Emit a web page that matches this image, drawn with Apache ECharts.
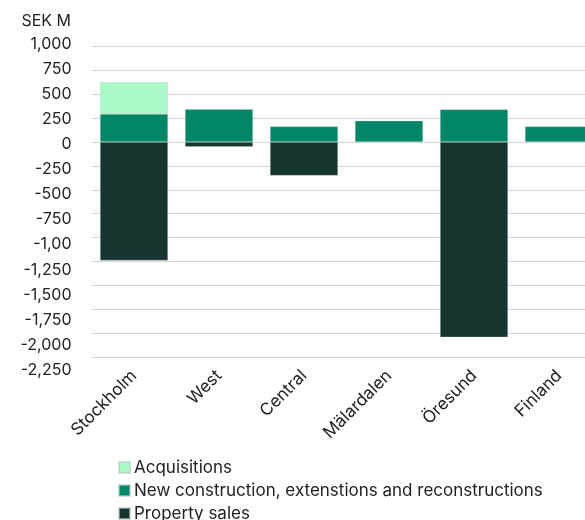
<!DOCTYPE html>
<html>
<head>
<meta charset="utf-8">
<script src="https://cdn.jsdelivr.net/npm/echarts@6/dist/echarts.min.js"></script>
<style>
html,body{margin:0;padding:0;background:#fff;}
#chart{width:585px;height:520px;}
</style>
</head>
<body>
<div id="chart"></div>
<script>
var categories = ['Stockholm', 'West', 'Central', 'Mälardalen', 'Öresund', 'Finland'];
var acquisitions = [335, 0, 0, 0, 0, 0];
var newConstruction = [293, 345, 164, 223, 342, 164];
var propertySales = [-1240, -50, -352, 0, -2043, 0];
var tickLabels = ['-2,250', '-2,000', '-1,750', '-1,500', '-1,250', '-1,00', '-750', '-500', '-250', '0', '250', '500', '750', '1,000'];
var seriesNames = ['Acquisitions', 'New construction, extenstions and reconstructions', 'Property sales'];

var FONT = 'Inter';
var chart = echarts.init(document.getElementById('chart'), null, {renderer: 'canvas'});
var tickValues = [];
for (var i = 0; i < tickLabels.length; i++) { tickValues.push(-2250 + i * 250); }

function barSeries(name, data, color) {
  return {
    name: name,
    type: 'bar',
    stack: 'total',
    xAxisIndex: 0,
    yAxisIndex: 0,
    barWidth: '80%',
    data: data.map(function (v) { return v === 0 ? null : v; }),
    itemStyle: {color: color, borderColor: 'rgba(190,200,198,0.6)', borderWidth: 0.6},
    emphasis: {disabled: true}
  };
}

chart.setOption({
  animation: false,
  textStyle: {fontFamily: FONT},
  grid: [
    {left: 91.5, width: 510, top: 46.5, bottom: 163, outerBoundsMode: 'none', containLabel: false},
    {left: 91.5, width: 510, top: 44, bottom: 150, outerBoundsMode: 'none', containLabel: false}
  ],
  legend: {
    orient: 'vertical',
    left: 118,
    top: 458,
    height: 100,
    padding: 0,
    itemWidth: 11,
    itemHeight: 11,
    itemGap: 4,
    icon: 'rect',
    data: seriesNames,
    textStyle: {fontFamily: FONT, fontSize: 17, color: '#222', padding: [0, 0, 0, -1], lineHeight: 19}
  },
  xAxis: [
    {
      type: 'category', gridIndex: 0, data: categories,
      axisLine: {show: false}, axisTick: {show: false},
      axisLabel: {rotate: 45, fontSize: 17, color: '#222', fontFamily: FONT, margin: 16, interval: 0}
    },
    {type: 'category', gridIndex: 1, data: categories, show: false}
  ],
  yAxis: [
    {
      type: 'value', gridIndex: 0, min: -2250, max: 1000, interval: 250,
      axisLabel: {show: false},
      axisLine: {show: false}, axisTick: {show: false},
      splitLine: {lineStyle: {color: '#d4d4d4', width: 1}}
    },
    {
      type: 'value', gridIndex: 1, min: -2250, max: 1000, interval: 250,
      axisLine: {show: false}, axisTick: {show: false}, splitLine: {show: false},
      axisLabel: {
        fontSize: 16, color: '#222', fontFamily: FONT, margin: 20,
        formatter: function (v) {
          var idx = tickValues.indexOf(v);
          return idx >= 0 ? tickLabels[idx] : '';
        }
      }
    }
  ],
  graphic: [{
    type: 'text', right: 585 - 71, top: 13,
    style: {text: 'SEK M', font: '16px ' + FONT, fill: '#222', textAlign: 'right'}
  }],
  series: [
    barSeries(seriesNames[1], newConstruction, '#008767'),
    barSeries(seriesNames[0], acquisitions, '#abf8c9'),
    barSeries(seriesNames[2], propertySales, '#163430')
  ]
});
</script>
</body>
</html>
